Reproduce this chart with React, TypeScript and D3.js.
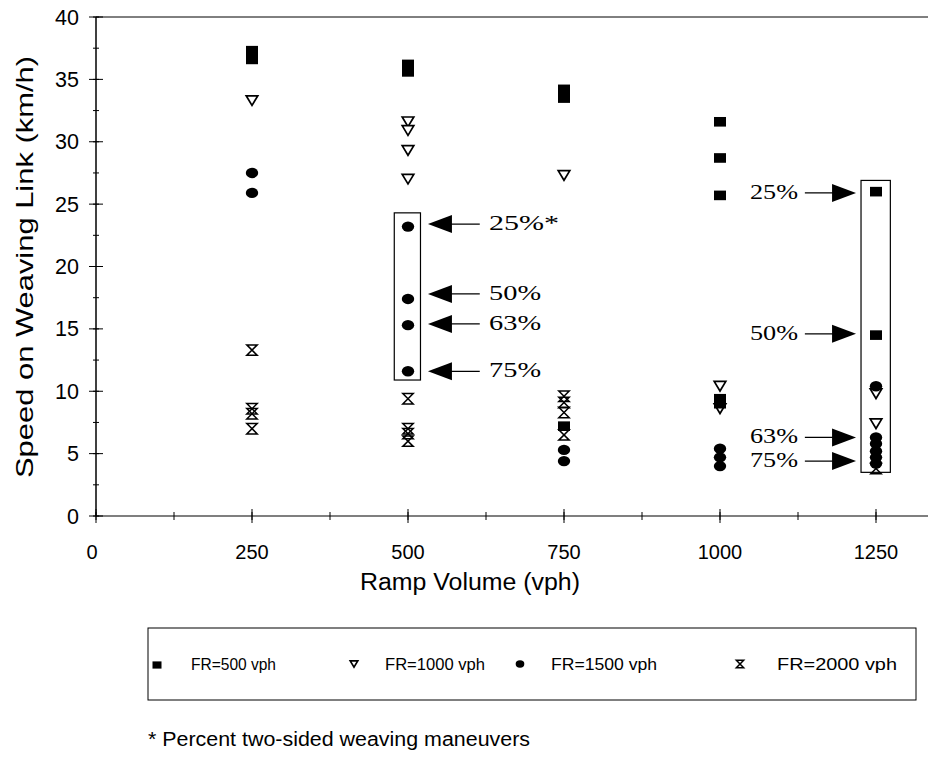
import React from "react";
import * as d3 from "d3";

const xTicks = [0, 250, 500, 750, 1000, 1250];
const yTicks = [0, 5, 10, 15, 20, 25, 30, 35, 40];

// [ramp volume, speed]
const fr500: [number, number][] = [
  [250, 37.3], [250, 36.6], [500, 36.2], [500, 35.6], [750, 34.2], [750, 33.5], [750, 7.2],
  [1000, 31.6], [1000, 28.7], [1000, 25.7], [1000, 9.4], [1000, 9.0], [1250, 26.0], [1250, 14.5],
];
const fr1000: [number, number][] = [
  [250, 33.3], [500, 31.6], [500, 30.9], [500, 29.3], [500, 27.0], [750, 27.3],
  [1000, 10.4], [1000, 8.6], [1250, 9.8], [1250, 7.4],
];
const fr1500: [number, number][] = [
  [250, 27.5], [250, 25.9], [500, 23.2], [500, 17.4], [500, 15.3], [500, 11.6],
  [750, 5.3], [750, 4.4], [1000, 5.4], [1000, 4.7], [1000, 4.0],
  [1250, 10.4], [1250, 6.3], [1250, 5.8], [1250, 5.2], [1250, 4.7], [1250, 4.2],
];
const fr2000: [number, number][] = [
  [250, 13.3], [250, 8.6], [250, 8.2], [250, 7.0], [500, 9.4], [500, 7.0], [500, 6.6], [500, 6.0],
  [750, 9.6], [750, 9.1], [750, 8.3], [750, 6.5], [1250, 3.8],
];

const leftLabels = ["25%*", "50%", "63%", "75%"];
const leftLabelY = [23.4, 17.8, 15.4, 11.6];
const rightLabels = ["25%", "50%", "63%", "75%"];
const rightLabelY = [25.9, 14.6, 6.3, 4.4];

const legendLabels = ["FR=500 vph", "FR=1000 vph", "FR=1500 vph", "FR=2000 vph"];

const W = 928, H = 759;

function Square({ cx, cy, s = 1 }: any) {
  return <rect x={cx - 6 * s} y={cy - 4.8 * s} width={12 * s} height={9.6 * s} fill="#000" />;
}
function Tri({ cx, cy, s = 1 }: any) {
  const w = 5.8 * s, h = 4.8 * s;
  return <path d={`M${cx - w},${cy - h}L${cx + w},${cy - h}L${cx},${cy + h}Z`} fill="#fff" stroke="#000" strokeWidth={1.7} />;
}
function Circ({ cx, cy, s = 1 }: any) {
  return <ellipse cx={cx} cy={cy} rx={6.2 * s} ry={5.2 * s} fill="#000" />;
}
function Hour({ cx, cy, s = 1 }: any) {
  const w = 5.2 * s, h = 5.2 * s;
  return (
    <path
      d={`M${cx - w},${cy - h}L${cx + w},${cy - h}L${cx - w},${cy + h}L${cx + w},${cy + h}Z`}
      fill="none" stroke="#000" strokeWidth={1.5}
    />
  );
}

export default function App() {
  const x = d3.scaleLinear().domain([0, 1250]).range([96, 876]);
  const y = d3.scaleLinear().domain([0, 40]).range([516, 17]);
  const minorX = d3.range(0, 1376, 125);
  const minorY = d3.range(0, 40.1, 2.5);

  const arrowL = (v: number) => {
    const tip = x(532), yy = y(v);
    return (
      <g key={"al" + v}>
        <line x1={tip + 18} y1={yy} x2={x(615)} y2={yy} stroke="#000" strokeWidth={1.2} />
        <path d={`M${tip},${yy}L${tip + 24},${yy - 9}L${tip + 24},${yy + 9}Z`} fill="#000" />
      </g>
    );
  };
  const arrowR = (v: number) => {
    const tip = x(1218), yy = y(v);
    return (
      <g key={"ar" + v}>
        <line x1={x(1136)} y1={yy} x2={tip - 18} y2={yy} stroke="#000" strokeWidth={1.2} />
        <path d={`M${tip},${yy}L${tip - 24},${yy - 9}L${tip - 24},${yy + 9}Z`} fill="#000" />
      </g>
    );
  };

  const sans = "Liberation Sans, Arial, sans-serif";
  const serif = "Liberation Serif, Times New Roman, serif";
  const leftW = [70, 52, 52, 52];
  const rightW = [48, 48, 48, 48];

  return (
    <svg width={W} height={H} style={{ position: "absolute", left: 0, top: 0, background: "#fff" }}>
      <rect width={W} height={H} fill="#fff" />
      {/* frame lines */}
      <line x1={x(0)} y1={y(40)} x2={W} y2={y(40)} stroke="#000" strokeWidth={1} />
      <line x1={x(0)} y1={y(0)} x2={x(0)} y2={y(40)} stroke="#000" strokeWidth={1.5} />
      <line x1={x(0)} y1={y(0)} x2={W} y2={y(0)} stroke="#000" strokeWidth={1.2} />
      {minorY.map((v) => (
        <line key={"my" + v} x1={x(0) - 3} x2={x(0) + 3} y1={y(v)} y2={y(v)} stroke="#000" strokeWidth={1} />
      ))}
      {yTicks.map((v) => (
        <g key={"yt" + v}>
          <line x1={x(0) - 7} x2={x(0) + 7} y1={y(v)} y2={y(v)} stroke="#000" strokeWidth={1} />
          <text x={79} y={y(v) + 7.5} textAnchor="end" fontFamily={sans} fontSize={21.5}>{v}</text>
        </g>
      ))}
      {minorX.map((v) => (
        <line key={"mx" + v} x1={x(v)} x2={x(v)} y1={y(0) - 4} y2={y(0) + 4} stroke="#000" strokeWidth={1} />
      ))}
      {xTicks.map((v) => (
        <g key={"xt" + v}>
          <line x1={x(v)} x2={x(v)} y1={y(0) - 7} y2={y(0) + 7} stroke="#000" strokeWidth={1} />
          <text x={v === 0 ? 92 : x(v)} y={559} textAnchor="middle" fontFamily={sans} fontSize={20}>{v}</text>
        </g>
      ))}
      <text x={360} y={590} fontFamily={sans} fontSize={23} textLength={220} lengthAdjust="spacingAndGlyphs">Ramp Volume (vph)</text>
      <text transform={`translate(33,478) rotate(-90)`} fontFamily={sans} fontSize={24} textLength={422} lengthAdjust="spacingAndGlyphs">
        Speed on Weaving Link (km/h)
      </text>

      {/* boxes */}
      <rect x={x(478)} y={y(24.3)} width={x(520) - x(478)} height={y(10.9) - y(24.3)} fill="none" stroke="#000" strokeWidth={1.2} />
      <rect x={x(1226)} y={y(26.9)} width={x(1273) - x(1226)} height={y(3.5) - y(26.9)} fill="none" stroke="#000" strokeWidth={1.2} />

      {/* points */}
      {fr2000.map((d, i) => <Hour key={"h" + i} cx={x(d[0])} cy={y(d[1])} />)}
      {fr1000.map((d, i) => <Tri key={"t" + i} cx={x(d[0])} cy={y(d[1])} />)}
      {fr1500.map((d, i) => <Circ key={"c" + i} cx={x(d[0])} cy={y(d[1])} />)}
      {fr500.map((d, i) => <Square key={"s" + i} cx={x(d[0])} cy={y(d[1])} />)}

      {/* annotations */}
      {leftLabelY.map((v) => arrowL(v))}
      {leftLabels.map((t, i) => (
        <text key={"ll" + i} x={x(630)} y={y(leftLabelY[i]) + 6} fontFamily={serif} fontSize={21}
          textLength={leftW[i]} lengthAdjust="spacingAndGlyphs">{t}</text>
      ))}
      {rightLabelY.map((v) => arrowR(v))}
      {rightLabels.map((t, i) => (
        <text key={"rl" + i} x={x(1125) - rightW[i]} y={y(rightLabelY[i]) + 6} fontFamily={serif} fontSize={21}
          textLength={rightW[i]} lengthAdjust="spacingAndGlyphs">{t}</text>
      ))}

      {/* legend */}
      <rect x={148} y={628} width={768} height={72} fill="none" stroke="#000" strokeWidth={1} />
      <Square cx={157} cy={665} s={0.75} />
      <Tri cx={354} cy={664} s={0.65} />
      <Circ cx={520} cy={664} s={0.7} />
      <Hour cx={740} cy={664} s={0.7} />
      {legendLabels.map((t, i) => (
        <text key={"lg" + i} x={[191, 385, 551, 777][i]} y={670} fontFamily={sans} fontSize={16}
          textLength={[85, 100, 106, 120][i]} lengthAdjust="spacingAndGlyphs">{t}</text>
      ))}
      <text x={148} y={746} fontFamily={sans} fontSize={20} textLength={382} lengthAdjust="spacingAndGlyphs">* Percent two-sided weaving maneuvers</text>
    </svg>
  );
}
